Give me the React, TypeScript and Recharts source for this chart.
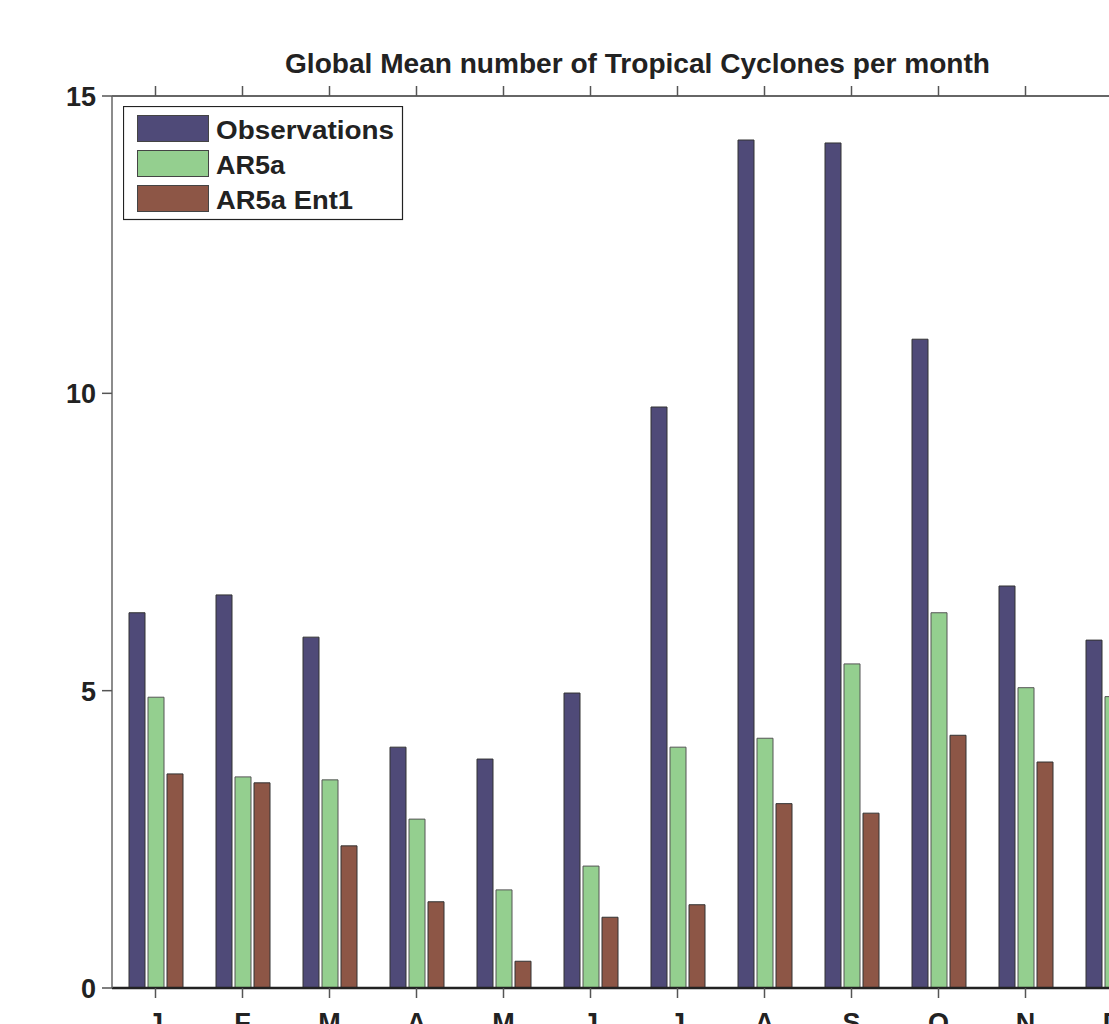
import { BarChart, Bar, XAxis, YAxis, Legend } from "recharts";

const months = ["J", "F", "M", "A", "M", "J", "J", "A", "S", "O", "N", "D"];
const observations = [6.31, 6.61, 5.9, 4.05, 3.85, 4.96, 9.77, 14.26, 14.21, 10.91, 6.76, 5.85];
const ar5a = [4.89, 3.55, 3.5, 2.84, 1.65, 2.05, 4.05, 4.2, 5.45, 6.31, 5.05, 4.9];
const ar5aEnt1 = [3.6, 3.45, 2.39, 1.45, 0.45, 1.19, 1.4, 3.1, 2.94, 4.25, 3.8, 3.3];
const yTicks = [0, 5, 10, 15];

const seriesColors = {
  obs: "#4f4a78",
  ar5a: "#94cf8f",
  ent1: "#8d5646",
};

const legendItems = [
  { label: "Observations", color: seriesColors.obs, len: 178 },
  { label: "AR5a", color: seriesColors.ar5a, len: 69 },
  { label: "AR5a Ent1", color: seriesColors.ent1, len: 137 },
];

const chartData = months.map((m, i) => ({
  key: String(i),
  month: m,
  obs: observations[i],
  ar5a: ar5a[i],
  ent1: ar5aEnt1[i],
}));

const FONT = "'Liberation Sans', Arial, sans-serif";

function MonthTick(props: any) {
  const { x, y, index } = props;
  return (
    <text x={x} y={y} dy={32} textAnchor="middle" fontFamily={FONT} fontWeight="bold" fontSize={27} fill="#222">
      {months[index]}
    </text>
  );
}

// top box edge: tick marks only, no labels
function EmptyTick() {
  return <g />;
}

function ValueTick(props: any) {
  const { x, y, payload } = props;
  return (
    <text x={x} y={y} dy={10} textAnchor="end" fontFamily={FONT} fontWeight="bold" fontSize={27} fill="#222">
      {payload.value}
    </text>
  );
}

function BoxLegend() {
  return (
    <svg width={281} height={115} style={{ display: "block" }}>
      <rect x={0.5} y={0.5} width={279} height={113} fill="#fff" stroke="#222" strokeWidth={1.2} />
      {legendItems.map((it, i) => (
        <g key={it.label}>
          <rect x={14.5} y={9.5 + i * 35} width={71} height={26} fill={it.color} stroke="#444" strokeWidth={1} />
          <text
            x={93}
            y={33 + i * 35}
            fontFamily={FONT}
            fontWeight="bold"
            fontSize={26}
            fill="#222"
            textLength={it.len}
            lengthAdjust="spacingAndGlyphs"
          >
            {it.label}
          </text>
        </g>
      ))}
    </svg>
  );
}

export default function App() {
  return (
    <div
      style={{
        position: "absolute",
        left: 0,
        top: 0,
        width: 1109,
        height: 1024,
        overflow: "hidden",
        background: "#fff",
      }}
    >
      <svg width={1109} height={90} style={{ position: "absolute", left: 0, top: 0 }}>
        <text
          x={285}
          y={73}
          fontFamily={FONT}
          fontWeight="bold"
          fontSize={28}
          fill="#222"
          textLength={705}
          lengthAdjust="spacingAndGlyphs"
        >
          Global Mean number of Tropical Cyclones per month
        </text>
      </svg>
      <BarChart
        width={1300}
        height={1060}
        data={chartData}
        margin={{ top: 66, right: 144, bottom: 12, left: 12 }}
        barSize={16}
        barGap={3}
        style={{ position: "absolute", left: 0, top: 0 }}
      >
        <XAxis
          dataKey="key"
          height={60}
          tick={<MonthTick />}
          tickSize={10}
          tickLine={{ stroke: "#555", strokeWidth: 1.5 }}
          axisLine={{ stroke: "#222", strokeWidth: 2.5 }}
          interval={0}
        />
        <XAxis
          xAxisId="top"
          dataKey="key"
          orientation="top"
          height={30}
          tick={<EmptyTick />}
          tickSize={10}
          tickLine={{ stroke: "#555", strokeWidth: 1.5 }}
          axisLine={{ stroke: "#333", strokeWidth: 1.5 }}
          interval={0}
        />
        <YAxis
          width={100}
          domain={[0, 15]}
          ticks={yTicks}
          tick={<ValueTick />}
          tickSize={10}
          tickMargin={6}
          tickLine={{ stroke: "#555", strokeWidth: 1.5 }}
          axisLine={{ stroke: "#666", strokeWidth: 1.5 }}
          interval={0}
        />
        <Legend
          layout="vertical"
          align="center"
          verticalAlign="middle"
          content={<BoxLegend />}
          wrapperStyle={{ position: "absolute", left: 123, top: 106, width: 281, height: 115 }}
        />
        <Bar dataKey="obs" name="Observations" fill={seriesColors.obs} stroke="#333" strokeWidth={1} isAnimationActive={false} />
        <Bar dataKey="ar5a" name="AR5a" fill={seriesColors.ar5a} stroke="#555" strokeWidth={1} isAnimationActive={false} />
        <Bar dataKey="ent1" name="AR5a Ent1" fill={seriesColors.ent1} stroke="#333" strokeWidth={1} isAnimationActive={false} />
      </BarChart>
    </div>
  );
}
